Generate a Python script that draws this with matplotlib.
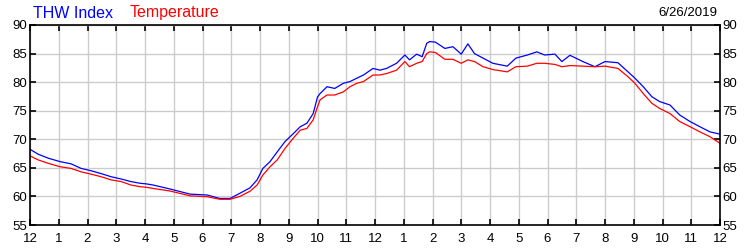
import matplotlib
matplotlib.use("Agg")
import matplotlib.pyplot as plt

plt.rcParams['font.family'] = ['Liberation Sans', 'DejaVu Sans']

# hours since midnight, readings
hours = [0.0, 0.28, 0.63, 1.04, 1.43, 1.78, 2.12, 2.47, 2.82, 3.17, 3.51, 3.83,
         4.04, 4.28, 4.87, 5.57, 6.16, 6.6, 6.96, 7.3, 7.65, 7.9, 8.1, 8.35,
         8.6, 8.87, 9.16, 9.4, 9.63, 9.85, 10.0, 10.09, 10.33, 10.6, 10.9,
         11.13, 11.37, 11.6, 11.93, 12.17, 12.4, 12.75, 13.04, 13.2, 13.45,
         13.64, 13.8, 13.9, 14.1, 14.43, 14.71, 15.0, 15.23, 15.46, 15.76,
         16.1, 16.6, 16.9, 17.3, 17.63, 17.9, 18.26, 18.5, 18.78, 19.23,
         19.65, 20.0, 20.45, 20.8, 21.04, 21.33, 21.63, 21.9, 22.26, 22.6,
         22.96, 23.3, 23.65, 24.0]
thw = [68.25, 67.4, 66.7, 66.1, 65.7, 64.9, 64.5, 64.0, 63.45, 63.05, 62.6, 62.3,
       62.2, 62.0, 61.3, 60.4, 60.25, 59.65, 59.65, 60.55, 61.5, 62.9, 64.9, 66.1,
       67.8, 69.6, 71.0, 72.2, 72.8, 74.5, 77.4, 78.0, 79.2, 78.9, 79.8,
       80.1, 80.7, 81.25, 82.4, 82.1, 82.4, 83.3, 84.75, 83.9, 84.9,
       84.45, 86.8, 87.1, 87.0, 85.9, 86.2, 84.9, 86.7, 85.0, 84.2,
       83.3, 82.8, 84.2, 84.75, 85.3, 84.75, 84.9, 83.6, 84.7, 83.6,
       82.7, 83.6, 83.4, 81.8, 80.7, 79.2, 77.45, 76.6, 76.0, 74.25,
       73.1, 72.2, 71.3, 70.9]
temp = [67.1, 66.4, 65.8, 65.2, 64.9, 64.3, 63.9, 63.45, 62.9, 62.6, 62.0, 61.7,
        61.6, 61.4, 60.95, 60.1, 59.95, 59.5, 59.5, 60.0, 60.9, 62.0, 63.75, 65.2,
        66.4, 68.4, 70.2, 71.6, 71.9, 73.4, 75.7, 76.9, 77.75, 77.75, 78.3,
        79.2, 79.8, 80.1, 81.25, 81.25, 81.5, 82.1, 83.6, 82.7, 83.3,
        83.6, 85.0, 85.3, 85.2, 84.0, 84.0, 83.3, 83.9, 83.6, 82.7,
        82.2, 81.8, 82.7, 82.8, 83.3, 83.3, 83.1, 82.7, 82.9, 82.8,
        82.7, 82.8, 82.4, 80.95, 79.8, 78.0, 76.3, 75.4, 74.5, 73.1,
        72.2, 71.3, 70.45, 69.3]

hour_labels = ['12'] + [str(h) for h in range(1, 12)] + ['12'] + [str(h) for h in range(1, 12)] + ['12']
date_text = '6/26/2019'

fig = plt.figure(figsize=(7.5, 2.5), dpi=100)
ax = fig.add_axes([0.04, 0.1, 0.92, 0.8])

ax.plot(hours, thw, color='#0000FF', lw=0.9)
ax.plot(hours, temp, color='#FF0000', lw=0.9)

ax.set_xlim(0, 24)
ax.set_ylim(55, 90)
ax.set_xticks(range(25))
ax.set_xticklabels(hour_labels)
ax.set_yticks(range(55, 91, 5))
ax.grid(True, color='#CCCCCC', lw=1.0)
ax.set_axisbelow(True)

for s in ax.spines.values():
    s.set_linewidth(1.2)
    s.set_color('black')

ax.tick_params(axis='both', direction='in', length=4, width=1.2, labelsize=9.5,
               top=True, right=True, labelright=True, pad=2)
ax.tick_params(axis='x', pad=6)

fig.text(33 / 750, 1 - 13 / 250, 'THW Index', color='#0000FF', fontsize=11.5,
         va='center', ha='left')
fig.text(130 / 750, 1 - 13 / 250, 'Temperature', color='#FF0000', fontsize=11.5,
         va='center', ha='left')
fig.text(717 / 750, 1 - 13 / 250, date_text, color='black', fontsize=9.5,
         va='center', ha='right')

fig.savefig('out.png', dpi=100)
